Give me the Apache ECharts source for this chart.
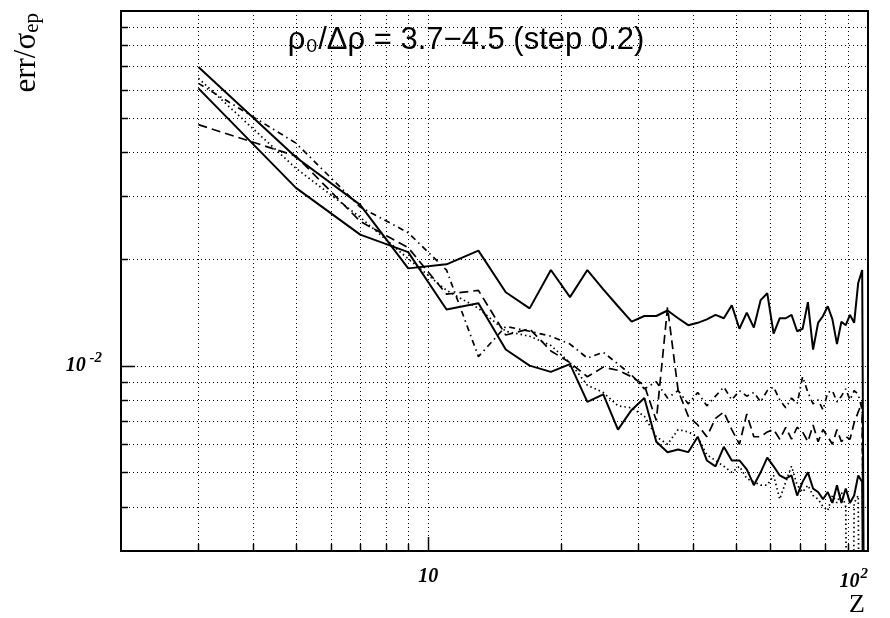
<!DOCTYPE html>
<html>
<head>
<meta charset="utf-8">
<script src="https://cdn.jsdelivr.net/npm/echarts@6/dist/echarts.min.js"></script>
<style>
  html, body { margin: 0; padding: 0; background: #fff; }
  #main { width: 890px; height: 618px; }
</style>
</head>
<body>
<div id="main"></div>
<script>
// Z values (odd charges)
var zValues = [3,5,7,9,11,13,15,17,19,21,23,25,27,29,31,33,35,37,39,41,43,45,47,49,
  51,53,55,57,59,61,63,65,67,69,71,73,75,77,79,81,83,85,87,89,91,93,95,97,99];

// err/sigma_ep for each curve
var solidUpper = [.0695,.0387,.0284,.0188,.0193,.0211,.0161,.0145,.0186,.0156,.0186,.0164,.0147,.0133,.0138,.0138,.0143,.0136,.0130,.0132,.0135,.0139,.0136,.0148,
  .0127,.0141,.0128,.0153,.0160,.0123,.0136,.0136,.0139,.0125,.0127,.0151,.0111,.0132,.0138,.0147,.0135,.0115,.0133,.0130,.0139,.0132,.0171,.0186,.0001];
var solidLower = [.0605,.0317,.0234,.0209,.0144,.0150,.0111,.0100,.0096,.0101,.0079,.0083,.0066,.0075,.0081,.0061,.0057,.0058,.0057,.0063,.0054,.0052,.0059,.0054,
  .0054,.0051,.0046,.0050,.0055,.0052,.0049,.0048,.0049,.0043,.0047,.0050,.0045,.0044,.0042,.0044,.0041,.0046,.0041,.0045,.0041,.0043,.0049,.0047,.0001];
var dashed = [.0478,.0390,.0255,.0215,.0159,.0163,.0122,.0127,.0110,.0102,.0093,.0099,.0097,.0093,.0088,.0070,.0146,.0085,.0072,.0068,.0063,.0071,.0074,.0066,
  .0060,.0073,.0063,.0063,.0065,.0066,.0062,.0067,.0062,.0067,.0065,.0061,.0068,.0061,.0066,.0063,.0060,.0066,.0061,.0063,.0062,.0069,.0074,.0079,.0001];
var dashDot = [.0625,.0424,.0280,.0237,.0186,.0106,.0129,.0125,.0121,.0115,.0105,.0109,.0101,.0094,.0086,.0090,.0081,.0085,.0078,.0084,.0077,.0082,.0087,.0080,
  .0085,.0082,.0084,.0079,.0085,.0087,.0080,.0076,.0081,.0078,.0093,.0084,.0078,.0080,.0075,.0084,.0085,.0079,.0082,.0086,.0080,.0085,.0083,.0075,.0001];
var dotted = [.0646,.0360,.0262,.0200,.0163,.0145,.0125,.0121,.0114,.0102,.0088,.0084,.0077,.0076,.0072,.0063,.0060,.0066,.0065,.0063,.0056,.0054,.0052,.0050,
  .0052,.0048,.0047,.0046,.0046,.0049,.0042,.0047,.0052,.0046,.0044,.0046,.0043,.0042,.0040,.0039,.0043,.0041,.0044,.0040,.0001,.0041,.0043,.0001,.0001];

// grid lines
var xGrid = [3,4,5,6,7,8,9,10,20,30,40,50,60,70,80,90];
var yGrid = [0.004,0.005,0.006,0.007,0.008,0.009,0.01,0.02,0.03,0.04,0.05,0.06,0.07,0.08,0.09];

function pairs(ys) {
  return zValues.map(function (z, i) { return [z, ys[i]]; });
}
function isPow(v, p) {
  return Math.abs(Math.log10(v) - p) < 1e-6;
}

var labelFont = { fontFamily: 'Liberation Serif', fontWeight: 'bold', fontStyle: 'italic', color: '#000' };

var chart = echarts.init(document.getElementById('main'), null, { renderer: 'canvas' });

chart.setOption({
  animation: false,
  backgroundColor: '#fff',
  grid: {
    left: 121, top: 11, right: 22, bottom: 67,
    show: true, borderColor: '#000', borderWidth: 2, backgroundColor: 'transparent'
  },
  xAxis: {
    type: 'log', logBase: 10, min: 2, max: 100,
    axisLine: { show: false },
    axisTick: { show: false },
    splitLine: { show: false },
    axisLabel: {
      margin: 16,
      alignMaxLabel: 'right',
      formatter: function (v) {
        if (isPow(v, 1)) return '{b|10}';
        if (isPow(v, 2)) return '{b|10}{s|2}';
        return '';
      },
      rich: {
        b: Object.assign({ fontSize: 20 }, labelFont),
        s: Object.assign({ fontSize: 15, padding: [0, 0, 14, 1] }, labelFont)
      }
    }
  },
  yAxis: {
    type: 'log', logBase: 10, min: 0.003, max: 0.1,
    axisLine: { show: false },
    axisTick: { show: false },
    splitLine: { show: false },
    axisLabel: {
      margin: 19,
      formatter: function (v) {
        if (isPow(v, -2)) return '{b|10}{s| -2}';
        return '';
      },
      rich: {
        b: Object.assign({ fontSize: 20 }, labelFont),
        s: Object.assign({ fontSize: 15, padding: [0, 0, 14, 0] }, labelFont)
      }
    }
  },
  graphic: [
    {
      type: 'text', x: 466, y: 40,
      style: {
        text: 'ρ₀/Δρ = 3.7−4.5 (step 0.2)',
        font: '31px "Liberation Sans", sans-serif',
        fill: '#000', align: 'center', verticalAlign: 'middle'
      }
    },
    {
      type: 'text', x: 857, y: 605,
      style: {
        text: 'Z', font: '26px "Liberation Serif", serif',
        fill: '#000', align: 'center', verticalAlign: 'middle'
      }
    },
    {
      type: 'text', x: 27, y: 13, rotation: Math.PI / 2,
      style: {
        text: '{m|err/σ}{e|ep}',
        align: 'right', verticalAlign: 'middle',
        rich: {
          m: { font: '31px "Liberation Serif", serif', fill: '#000' },
          e: { font: '21px "Liberation Serif", serif', fill: '#000', padding: [10, 0, 0, 0] }
        }
      }
    }
  ],
  series: [
    {
      type: 'custom', silent: true, z: 1,
      data: yGrid.map(function (v) { return [2, v]; }),
      renderItem: function (params, api) {
        var cs = params.coordSys;
        var y = Math.round(api.coord([api.value(0), api.value(1)])[1]) + 0.5;
        var major = isPow(api.value(1), -2);
        return {
          type: 'group',
          children: [
            { type: 'line', shape: { x1: cs.x, y1: y, x2: cs.x + cs.width, y2: y },
              style: { stroke: '#000', lineWidth: 1, lineDash: [1, 3] } },
            { type: 'line', shape: { x1: cs.x, y1: y, x2: cs.x + (major ? 14 : 7), y2: y },
              style: { stroke: '#000', lineWidth: 1.5 } }
          ]
        };
      }
    },
    {
      type: 'custom', silent: true, z: 1,
      data: xGrid.map(function (v) { return [v, 0.003]; }),
      renderItem: function (params, api) {
        var cs = params.coordSys;
        var x = Math.round(api.coord([api.value(0), api.value(1)])[0]) + 0.5;
        var major = isPow(api.value(0), 1);
        var yb = cs.y + cs.height;
        return {
          type: 'group',
          children: [
            { type: 'line', shape: { x1: x, y1: cs.y, x2: x, y2: yb },
              style: { stroke: '#000', lineWidth: 1, lineDash: [1, 3] } },
            { type: 'line', shape: { x1: x, y1: yb, x2: x, y2: yb - (major ? 14 : 7) },
              style: { stroke: '#000', lineWidth: 1.5 } }
          ]
        };
      }
    },
    { name: 'solidUpper', type: 'line', data: pairs(solidUpper), symbol: 'none', z: 3,
      lineStyle: { color: '#000', width: 2, type: 'solid' } },
    { name: 'solidLower', type: 'line', data: pairs(solidLower), symbol: 'none', z: 3,
      lineStyle: { color: '#000', width: 2, type: 'solid' } },
    { name: 'dashed', type: 'line', data: pairs(dashed), symbol: 'none', z: 3,
      lineStyle: { color: '#000', width: 1.7, type: [9, 5] } },
    { name: 'dashDot', type: 'line', data: pairs(dashDot), symbol: 'none', z: 3,
      lineStyle: { color: '#000', width: 1.7, type: [6, 4, 1.5, 4] } },
    { name: 'dotted', type: 'line', data: pairs(dotted), symbol: 'none', z: 3,
      lineStyle: { color: '#000', width: 1.7, type: [1.5, 3] } }
  ]
});
</script>
</body>
</html>
